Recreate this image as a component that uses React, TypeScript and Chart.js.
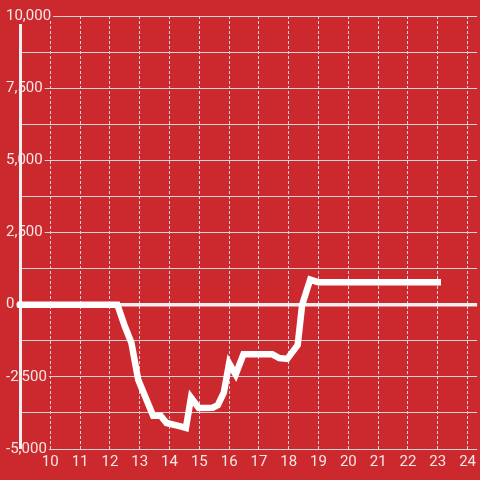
import React, { useEffect, useRef } from 'react';
import { Chart, registerables } from 'chart.js';

Chart.register(...registerables);

// Data (hour of day -> value)
const hours = [9, 12.25, 12.5, 12.72, 12.95, 13.45, 13.7, 13.9, 14.3, 14.55, 14.72, 14.98, 15.45, 15.62, 15.82, 16.0, 16.22, 16.48, 17.45, 17.68, 17.95, 18.3, 18.45, 18.72, 18.98, 23];
const values = [0, 0, -750, -1320, -2600, -3850, -3850, -4100, -4200, -4270, -3220, -3580, -3570, -3480, -3050, -2030, -2420, -1720, -1720, -1850, -1880, -1400, 0, 870, 780, 780];

const xTickValues = [10, 11, 12, 13, 14, 15, 16, 17, 18, 19, 20, 21, 22, 23, 24];
const yTickValues = [-5000, -3750, -2500, -1250, 0, 1250, 2500, 3750, 5000, 6250, 7500, 8750, 10000];
const yLabelValues = [-5000, -2500, 0, 2500, 5000, 7500, 10000];

const RED = '#cc292e';
const TEXT = '#f4e6e6';
const GRID = '#d6d6d6';
const FONT = { family: 'Roboto', size: 15 };

const overlay = {
  id: 'overlay',
  beforeDatasetsDraw(chart: any) {
    const { ctx, chartArea, scales } = chart;
    const y0 = scales.y.getPixelForValue(0);
    ctx.save();
    ctx.strokeStyle = '#efefef';
    ctx.lineWidth = 3.5;
    ctx.beginPath();
    ctx.moveTo(chartArea.left - 4, y0);
    ctx.lineTo(chartArea.right, y0);
    ctx.stroke();
    ctx.lineWidth = 3;
    ctx.beginPath();
    ctx.moveTo(chartArea.left, chartArea.top + 8);
    ctx.lineTo(chartArea.left, chartArea.bottom);
    ctx.stroke();
    ctx.restore();
  },
};

export default function App() {
  const ref = useRef<HTMLCanvasElement>(null);
  useEffect(() => {
    document.body.style.margin = '0';
    document.body.style.background = RED;
    const chart = new Chart(ref.current as HTMLCanvasElement, {
      type: 'line',
      data: {
        datasets: [
          {
            data: hours.map((h, i) => ({ x: h, y: values[i] })),
            borderColor: '#ffffff',
            borderWidth: 6.5,
            borderCapStyle: 'square',
            pointRadius: 0,
            tension: 0,
            fill: false,
            clip: false,
          } as any,
        ],
      },
      options: {
        animation: false,
        responsive: false,
        layout: { padding: { left: 6, top: 16, right: 0, bottom: 5 } },
        plugins: { legend: { display: false }, tooltip: { enabled: false } },
        scales: {
          x: {
            type: 'linear',
            min: 9,
            max: 24.32,
            afterBuildTicks: (s: any) => {
              s.ticks = xTickValues.map((v) => ({ value: v }));
            },
            ticks: { color: TEXT, font: FONT, padding: 4, maxRotation: 0, autoSkip: false },
            grid: { color: GRID, lineWidth: 1, drawTicks: false },
            border: { display: false, dash: [3, 2] },
          },
          y: {
            type: 'linear',
            min: -5000,
            max: 10000,
            afterBuildTicks: (s: any) => {
              s.ticks = yTickValues.map((v) => ({ value: v }));
            },
            afterFit: (s: any) => {
              s.width = 14.5;
              // let the labels run over the plot area instead of being clipped
              s._computeLabelArea = () => undefined;
            },
            ticks: {
              color: TEXT,
              font: FONT,
              padding: 0,
              crossAlign: 'far',
              autoSkip: false,
              callback: (v: any) => (yLabelValues.includes(v) ? Number(v).toLocaleString('en-US') : ''),
              showLabelBackdrop: (ctx: any) => yLabelValues.includes(ctx.tick.value),
              backdropColor: RED,
              backdropPadding: { left: 1, right: 2, top: -5, bottom: -5 },
            } as any,
            grid: { color: GRID, lineWidth: 1, drawTicks: false },
            border: { display: false },
          },
        },
      },
      plugins: [overlay],
    });
    return () => chart.destroy();
  }, []);
  return (
    <div style={{ width: 480, height: 480, background: RED }}>
      <canvas ref={ref} width={480} height={480} style={{ display: 'block' }} />
    </div>
  );
}
